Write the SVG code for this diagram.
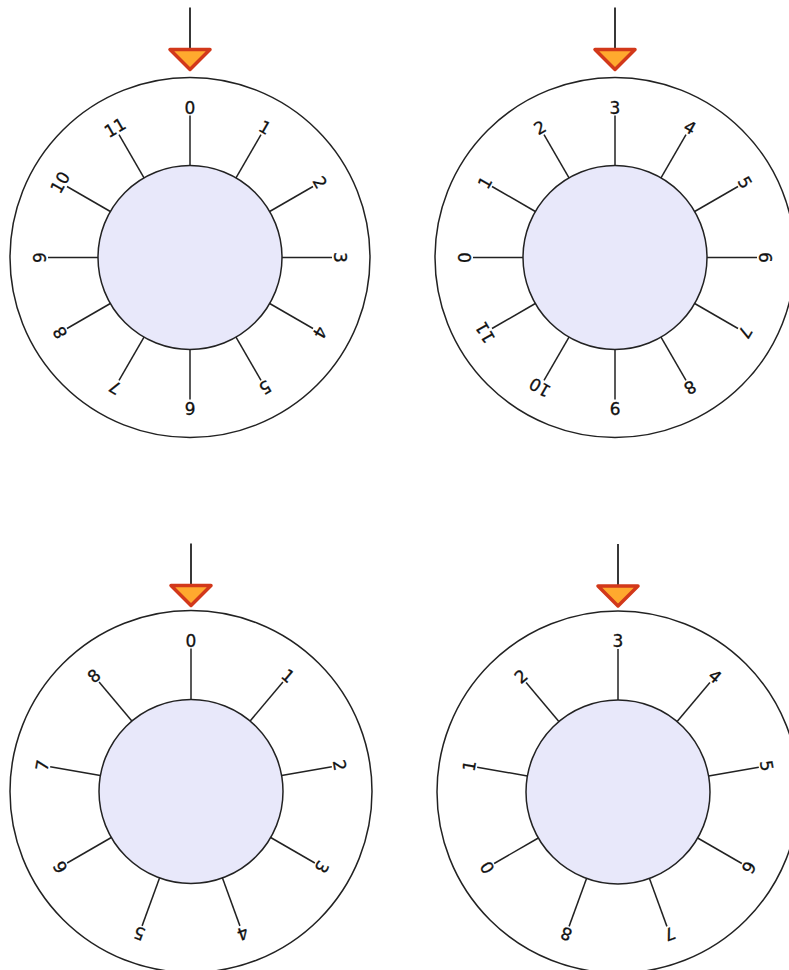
<svg xmlns="http://www.w3.org/2000/svg" width="789" height="970" viewBox="0 0 789 970">
<style>
.outer{fill:#fff;stroke:#222;stroke-width:1.5}
.inner{fill:#e8e8fa;stroke:#222;stroke-width:1.5}
.spoke{stroke:#222;stroke-width:1.5}
.lbl{font-family:"DejaVu Sans",sans-serif;font-size:17px;fill:#111;text-anchor:middle;stroke:#111;stroke-width:0.3}
.tri{fill:#ffa92e;stroke:#d2381a;stroke-width:3.5;stroke-linejoin:round}
.stem{stroke:#222;stroke-width:1.8}
</style>
<defs>
<g id="ptr"><line class="stem" x1="0" y1="-250" x2="0" y2="-209"/><polygon class="tri" points="-20,-208 20,-208 0,-188"/></g>
</defs>
<rect width="789" height="970" fill="#fff"/>
<g id="dial1" transform="translate(190,257.5)">
<circle class="outer" r="180"/>
<circle class="inner" r="92"/>
<g id="spokes1">
<line class="spoke" x1="0" y1="-92" x2="0" y2="-142" transform="rotate(0)"/>
<line class="spoke" x1="0" y1="-92" x2="0" y2="-142" transform="rotate(30)"/>
<line class="spoke" x1="0" y1="-92" x2="0" y2="-142" transform="rotate(60)"/>
<line class="spoke" x1="0" y1="-92" x2="0" y2="-142" transform="rotate(90)"/>
<line class="spoke" x1="0" y1="-92" x2="0" y2="-142" transform="rotate(120)"/>
<line class="spoke" x1="0" y1="-92" x2="0" y2="-142" transform="rotate(150)"/>
<line class="spoke" x1="0" y1="-92" x2="0" y2="-142" transform="rotate(180)"/>
<line class="spoke" x1="0" y1="-92" x2="0" y2="-142" transform="rotate(210)"/>
<line class="spoke" x1="0" y1="-92" x2="0" y2="-142" transform="rotate(240)"/>
<line class="spoke" x1="0" y1="-92" x2="0" y2="-142" transform="rotate(270)"/>
<line class="spoke" x1="0" y1="-92" x2="0" y2="-142" transform="rotate(300)"/>
<line class="spoke" x1="0" y1="-92" x2="0" y2="-142" transform="rotate(330)"/>
</g>
<text class="lbl" y="-144" transform="rotate(0)">0</text>
<text class="lbl" y="-144" transform="rotate(30)">1</text>
<text class="lbl" y="-144" transform="rotate(60)">2</text>
<text class="lbl" y="-144" transform="rotate(90)">3</text>
<text class="lbl" y="-144" transform="rotate(120)">4</text>
<text class="lbl" y="-144" transform="rotate(150)">5</text>
<text class="lbl" y="-144" transform="rotate(180)">6</text>
<text class="lbl" y="-144" transform="rotate(210)">7</text>
<text class="lbl" y="-144" transform="rotate(240)">8</text>
<text class="lbl" y="-144" transform="rotate(270)">9</text>
<text class="lbl" y="-144" transform="rotate(300)">10</text>
<text class="lbl" y="-144" transform="rotate(330)">11</text>
<use href="#ptr"/>
</g>
<g id="dial2" transform="translate(615,257.5)">
<circle class="outer" r="180"/>
<circle class="inner" r="92"/>
<g id="spokes2">
<line class="spoke" x1="0" y1="-92" x2="0" y2="-142" transform="rotate(0)"/>
<line class="spoke" x1="0" y1="-92" x2="0" y2="-142" transform="rotate(30)"/>
<line class="spoke" x1="0" y1="-92" x2="0" y2="-142" transform="rotate(60)"/>
<line class="spoke" x1="0" y1="-92" x2="0" y2="-142" transform="rotate(90)"/>
<line class="spoke" x1="0" y1="-92" x2="0" y2="-142" transform="rotate(120)"/>
<line class="spoke" x1="0" y1="-92" x2="0" y2="-142" transform="rotate(150)"/>
<line class="spoke" x1="0" y1="-92" x2="0" y2="-142" transform="rotate(180)"/>
<line class="spoke" x1="0" y1="-92" x2="0" y2="-142" transform="rotate(210)"/>
<line class="spoke" x1="0" y1="-92" x2="0" y2="-142" transform="rotate(240)"/>
<line class="spoke" x1="0" y1="-92" x2="0" y2="-142" transform="rotate(270)"/>
<line class="spoke" x1="0" y1="-92" x2="0" y2="-142" transform="rotate(300)"/>
<line class="spoke" x1="0" y1="-92" x2="0" y2="-142" transform="rotate(330)"/>
</g>
<text class="lbl" y="-144" transform="rotate(0)">3</text>
<text class="lbl" y="-144" transform="rotate(30)">4</text>
<text class="lbl" y="-144" transform="rotate(60)">5</text>
<text class="lbl" y="-144" transform="rotate(90)">6</text>
<text class="lbl" y="-144" transform="rotate(120)">7</text>
<text class="lbl" y="-144" transform="rotate(150)">8</text>
<text class="lbl" y="-144" transform="rotate(180)">9</text>
<text class="lbl" y="-144" transform="rotate(210)">10</text>
<text class="lbl" y="-144" transform="rotate(240)">11</text>
<text class="lbl" y="-144" transform="rotate(270)">0</text>
<text class="lbl" y="-144" transform="rotate(300)">1</text>
<text class="lbl" y="-144" transform="rotate(330)">2</text>
<use href="#ptr"/>
</g>
<g id="dial3" transform="translate(191,791.5)">
<circle class="outer" r="181"/>
<circle class="inner" r="92"/>
<g id="spokes3">
<line class="spoke" x1="0" y1="-92" x2="0" y2="-143" transform="rotate(0)"/>
<line class="spoke" x1="0" y1="-92" x2="0" y2="-143" transform="rotate(40)"/>
<line class="spoke" x1="0" y1="-92" x2="0" y2="-143" transform="rotate(80)"/>
<line class="spoke" x1="0" y1="-92" x2="0" y2="-143" transform="rotate(120)"/>
<line class="spoke" x1="0" y1="-92" x2="0" y2="-143" transform="rotate(160)"/>
<line class="spoke" x1="0" y1="-92" x2="0" y2="-143" transform="rotate(200)"/>
<line class="spoke" x1="0" y1="-92" x2="0" y2="-143" transform="rotate(240)"/>
<line class="spoke" x1="0" y1="-92" x2="0" y2="-143" transform="rotate(280)"/>
<line class="spoke" x1="0" y1="-92" x2="0" y2="-143" transform="rotate(320)"/>
</g>
<text class="lbl" y="-145" transform="rotate(0)">0</text>
<text class="lbl" y="-145" transform="rotate(40)">1</text>
<text class="lbl" y="-145" transform="rotate(80)">2</text>
<text class="lbl" y="-145" transform="rotate(120)">3</text>
<text class="lbl" y="-145" transform="rotate(160)">4</text>
<text class="lbl" y="-145" transform="rotate(200)">5</text>
<text class="lbl" y="-145" transform="rotate(240)">6</text>
<text class="lbl" y="-145" transform="rotate(280)">7</text>
<text class="lbl" y="-145" transform="rotate(320)">8</text>
<use href="#ptr" transform="translate(0,2)"/>
</g>
<g id="dial4" transform="translate(618,792)">
<circle class="outer" r="181"/>
<circle class="inner" r="92"/>
<g id="spokes4">
<line class="spoke" x1="0" y1="-92" x2="0" y2="-143" transform="rotate(0)"/>
<line class="spoke" x1="0" y1="-92" x2="0" y2="-143" transform="rotate(40)"/>
<line class="spoke" x1="0" y1="-92" x2="0" y2="-143" transform="rotate(80)"/>
<line class="spoke" x1="0" y1="-92" x2="0" y2="-143" transform="rotate(120)"/>
<line class="spoke" x1="0" y1="-92" x2="0" y2="-143" transform="rotate(160)"/>
<line class="spoke" x1="0" y1="-92" x2="0" y2="-143" transform="rotate(200)"/>
<line class="spoke" x1="0" y1="-92" x2="0" y2="-143" transform="rotate(240)"/>
<line class="spoke" x1="0" y1="-92" x2="0" y2="-143" transform="rotate(280)"/>
<line class="spoke" x1="0" y1="-92" x2="0" y2="-143" transform="rotate(320)"/>
</g>
<text class="lbl" y="-145" transform="rotate(0)">3</text>
<text class="lbl" y="-145" transform="rotate(40)">4</text>
<text class="lbl" y="-145" transform="rotate(80)">5</text>
<text class="lbl" y="-145" transform="rotate(120)">6</text>
<text class="lbl" y="-145" transform="rotate(160)">7</text>
<text class="lbl" y="-145" transform="rotate(200)">8</text>
<text class="lbl" y="-145" transform="rotate(240)">0</text>
<text class="lbl" y="-145" transform="rotate(280)">1</text>
<text class="lbl" y="-145" transform="rotate(320)">2</text>
<use href="#ptr" transform="translate(0,2)"/>
</g>
</svg>
